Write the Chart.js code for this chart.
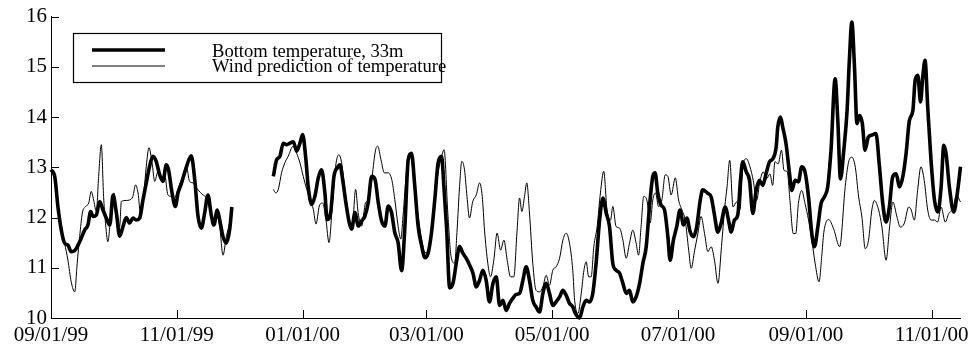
<!DOCTYPE html>
<html>
<head>
<meta charset="utf-8">
<script src="https://cdn.jsdelivr.net/npm/chart.js@4"></script>
<style>
html,body{margin:0;padding:0;background:#fff;}
#c{display:block;}
</style>
</head>
<body>
<canvas id="c" width="974" height="348"></canvas>
<script>
// Days since 09/01/99
const tickDays = [0, 61, 122, 182, 243, 304, 366, 427];
const tickLabels = ['09/01/99', '11/01/99', '01/01/00', '03/01/00', '05/01/00', '07/01/00', '09/01/00', '11/01/00'];
const seriesLabels = ['Bottom temperature, 33m', 'Wind prediction of temperature'];

const tempDay = [
  0,1.8,3.4,5.0,6.6,8.2,9.8,11.5,13.1,14.7,16.3,17.9,19.2,20.4,22.0,23.6,25.2,26.8,28.5,30.1,
  31.7,33.3,34.9,36.5,38.1,39.7,41.3,43.0,44.6,46.2,47.8,49.4,51.0,52.7,54.3,55.9,57.0,58.7,60.3,61.6,
  63.0,65.6,68.0,69.7,71.3,72.9,74.5,76.1,77.7,79.0,80.6,81.8,83.4,85.0,86.6,87.7,
  98,
  107.8,109.4,111.0,112.6,114.3,115.9,117.5,119.1,120.7,122.0,123.6,124.7,126.4,128.0,129.6,131.2,132.8,133.9,135.6,137.2,
  138.8,140.1,141.4,143.0,144.6,145.8,147.4,149.0,150.6,152.2,153.8,155.5,157.1,158.7,160.3,161.9,163.5,165.1,166.7,168.3,
  170.0,171.6,173.2,174.8,176.4,178.0,179.7,181.3,182.9,184.5,186.1,187.7,189.4,190.5,191.8,193.3,194.9,196.5,198.1,199.7,
  201.3,203.0,204.6,206.2,207.8,209.4,211.0,212.6,214.3,215.9,217.5,219.1,220.7,222.3,223.9,225.6,227.2,228.8,230.4,232.0,
  233.6,235.2,236.9,238.5,240.1,241.7,243.3,244.9,246.6,248.2,249.8,251.4,253.0,253.9,255.5,256.3,257.9,259.5,261.1,262.7,
  264.3,266.0,267.6,269.2,270.8,272.4,274.0,275.7,277.3,278.9,280.5,282.1,283.7,285.4,287.0,288.6,290.2,291.8,292.9,294.2,
  295.8,297.5,299.1,300.2,301.8,303.4,305.0,306.7,308.3,309.9,311.5,313.1,314.7,316.0,318.5,320.1,321.7,323.3,324.9,326.9,
  328.5,329.8,331.4,333.0,334.3,335.4,337.1,338.7,340.3,341.9,343.5,345.1,346.7,348.4,350.0,351.6,352.4,353.7,354.8,356.4,
  358.1,359.2,360.8,362.4,364.0,365.6,367.3,368.9,370.2,371.8,373.4,375.0,376.6,378.2,380.2,381.5,382.8,384.4,386.0,387.1,
  388.3,389.6,390.8,392.1,393.4,394.7,396.3,397.9,400.0,401.7,403.3,404.9,406.5,408.1,409.8,411.4,413.0,414.6,416.2,417.9,
  419.0,420.3,421.6,422.7,423.8,425.1,426.7,428.4,430.0,431.6,432.9,434.0,435.6,437.7,439.3,441.0
];
const tempValue = [
  12.95,12.82,12.2,11.75,11.49,11.45,11.32,11.34,11.45,11.59,11.75,11.85,12.12,12.02,12.05,12.32,12.15,11.99,11.85,12.45,
  12.09,11.63,11.82,12.0,11.89,11.99,11.95,11.99,12.35,12.69,13.02,13.22,13.12,12.85,12.72,13.05,12.95,12.49,12.22,12.49,
  12.65,13.0,13.23,12.75,12.02,11.79,12.09,12.45,12.05,11.85,12.15,11.95,11.62,11.49,11.75,12.21,
  null,
  12.82,13.15,13.22,13.48,13.45,13.48,13.51,13.32,13.48,13.65,13.15,12.62,12.26,12.43,12.79,12.95,12.49,11.96,12.1,12.82,
  12.99,13.05,12.76,12.29,11.9,11.77,12.1,11.83,11.93,12.03,12.29,12.82,12.76,12.29,11.93,11.83,12.23,12.1,11.7,11.5,
  10.94,11.83,13.15,13.28,12.62,11.83,11.44,11.2,11.3,11.7,12.36,13.09,13.22,12.62,11.8,10.6,10.69,11.09,11.42,11.29,
  11.19,11.05,10.89,10.62,10.75,10.95,10.75,10.32,10.69,10.82,10.25,10.35,10.15,10.29,10.39,10.47,10.49,10.75,11.02,10.75,
  10.35,10.22,10.12,10.49,10.69,10.49,10.25,10.32,10.42,10.55,10.45,10.29,10.22,10.12,10.02,10.0,10.22,10.35,10.32,10.49,
  11.09,11.95,12.39,12.09,11.82,11.09,10.95,10.89,10.69,10.49,10.55,10.32,10.42,10.69,11.09,11.42,12.22,12.82,12.89,12.49,
  12.25,12.15,11.62,11.15,11.55,11.82,12.15,11.85,11.99,11.72,11.62,11.82,12.32,12.55,12.48,12.41,12.05,11.71,11.88,12.21,
  11.95,11.71,11.95,12.05,12.74,13.11,12.91,12.74,12.08,12.54,12.74,12.64,12.87,13.11,13.17,13.4,13.8,14.0,13.8,13.47,
  12.87,12.54,12.74,12.71,13.01,12.91,12.41,11.68,11.42,11.81,12.28,12.41,12.61,13.34,14.76,13.93,12.77,13.34,14.13,15.13,
  15.89,14.99,13.87,14.03,13.87,13.34,13.6,13.64,13.67,13.01,12.28,11.91,12.21,12.81,12.87,12.61,12.81,13.27,13.93,14.13,
  14.73,14.83,14.3,14.8,15.13,14.2,13.14,12.34,12.11,12.61,13.44,13.27,12.61,12.11,12.44,13.01
];

const windDay = [
  0,1.8,3.4,5.0,6.6,8.2,9.8,11.5,12.7,13.9,15.2,16.8,18.3,19.5,20.8,22.0,23.1,24.4,25.5,26.3,
  27.6,28.9,30.5,31.7,33.3,34.1,36.5,38.1,39.7,41.0,42.2,43.5,45.1,46.2,47.5,49.0,50.3,51.9,53.5,55.1,
  56.7,58.3,59.9,61.6,63.9,65.6,67.2,68.8,71.3,73.7,75.3,76.9,78.5,80.1,81.8,83.4,85.0,86.6,87.4,
  98,
  107.8,109.0,110.2,111.8,113.4,115.0,117.4,119.1,120.7,122.3,124.0,125.6,127.2,128.5,130.1,131.7,133.3,134.8,136.4,138.0,
  139.6,140.9,142.5,144.1,146.0,147.7,148.9,150.6,152.5,154.1,155.7,157.4,158.4,160.0,161.6,163.5,165.2,166.7,168.3,169.6,
  170.7,172.4,173.5,174.8,176.4,178.0,179.7,181.3,182.9,184.5,186.1,187.7,189.4,190.6,192.4,194.0,195.7,196.9,198.1,199.2,
  200.5,201.7,202.9,204.5,206.2,207.8,209.1,210.2,211.8,213.1,214.7,216.3,218.0,219.6,221.2,222.8,224.4,226.0,227.2,228.3,
  229.6,230.7,232.0,233.6,235.2,236.9,238.5,240.1,241.7,243.3,244.9,246.6,248.2,249.8,251.4,253.0,253.9,255.5,257.1,258.4,
  259.5,260.7,261.9,263.2,264.8,266.4,268.0,269.6,271.3,272.4,274.0,275.7,277.3,278.9,280.5,282.1,283.7,284.9,286.1,287.4,
  288.9,290.5,291.8,293.1,294.6,296.2,297.8,299.1,300.7,302.7,304.3,305.9,307.5,309.2,310.4,312.1,313.7,315.2,316.9,318.5,
  320.1,321.7,323.4,325.1,326.7,327.8,329.1,330.7,332.4,334.0,335.6,337.2,338.9,340.5,342.1,343.7,345.3,346.9,348.6,349.9,
  351.0,352.6,354.2,355.4,357.0,358.3,359.9,361.1,362.4,364.0,365.6,367.3,368.9,370.5,372.4,373.7,374.7,377.1,379.5,382.4,
  385.1,386.7,388.3,390.0,391.6,393.2,394.8,396.4,398.0,399.3,401.3,402.9,404.9,406.6,408.2,410.2,411.8,413.7,415.9,417.1,
  418.6,420.2,421.8,423.4,425.1,426.7,428.3,429.9,431.6,433.6,435.3,437.4,439.0,441.0
];
const windValue = [
  12.95,12.75,12.29,11.82,11.49,11.15,10.72,10.52,11.09,11.62,12.09,12.22,12.29,12.52,12.32,12.12,12.82,13.45,12.42,11.95,
  11.52,12.02,12.49,12.15,11.82,12.32,12.34,12.35,12.42,12.65,12.49,12.05,12.52,13.02,13.39,13.09,12.72,12.92,12.79,12.85,
  12.45,12.42,12.39,12.58,12.82,13.02,12.72,12.69,12.55,12.45,12.39,12.19,11.89,12.09,11.82,11.25,11.62,11.89,12.09,
  null,
  12.56,12.49,12.56,12.89,13.09,13.22,13.42,13.28,13.09,12.82,12.56,12.36,12.16,11.87,12.23,12.29,11.96,11.5,12.23,13.02,
  13.25,13.09,12.56,12.1,11.77,12.56,12.1,11.83,12.29,12.36,12.82,13.35,13.42,13.15,12.89,12.89,12.76,12.36,11.83,11.57,
  12.03,12.95,13.28,13.15,12.56,12.03,11.57,11.3,11.3,11.7,12.36,12.89,13.22,13.35,12.09,11.22,11.09,11.75,12.62,13.12,
  12.95,12.42,11.99,12.32,12.45,12.69,12.42,11.75,11.09,10.82,11.15,11.69,11.35,11.55,11.15,10.82,10.82,11.75,12.39,12.12,
  12.42,12.69,12.09,11.09,10.55,10.52,10.62,10.85,10.65,10.95,11.02,11.19,11.55,11.69,11.49,10.95,10.35,10.09,10.49,10.95,
  11.12,10.82,10.82,11.42,11.82,12.49,12.92,12.15,11.95,12.22,11.82,11.79,11.55,11.19,11.49,11.75,11.49,11.25,11.82,12.42,
  12.35,11.89,12.35,12.49,12.22,12.35,12.85,12.82,12.45,12.79,12.35,12.15,11.95,11.35,10.99,11.35,11.69,12.02,11.68,11.32,
  11.42,11.15,10.69,11.42,12.21,12.61,13.14,12.21,12.31,12.15,13.07,13.17,13.01,12.74,12.34,12.71,12.91,12.77,12.87,12.64,
  13.11,13.07,13.34,12.94,12.91,12.34,11.68,11.68,12.28,12.54,12.28,11.95,11.55,11.09,10.72,11.22,11.7,11.96,11.77,11.42,
  12.62,13.1,13.2,13.0,12.41,12.01,11.38,11.55,12.15,12.34,12.15,11.81,11.15,11.81,12.31,12.01,11.81,11.88,12.21,12.15,
  11.95,12.54,13.01,12.74,12.15,11.95,11.95,11.91,12.21,11.91,12.08,12.18,12.44,12.31
];

const toPoints = (xs, ys) => xs.map((x, i) => ({ x: x, y: ys[i] }));
const FONT = "'Liberation Serif', 'DejaVu Serif', serif";

const innerTicks = {
  id: 'innerTicks',
  afterDraw(chart) {
    const ctx = chart.ctx;
    const xs = chart.scales.x, ys = chart.scales.y;
    const a = chart.chartArea;
    ctx.save();
    ctx.strokeStyle = '#000';
    ctx.lineWidth = 1;
    ctx.beginPath();
    xs.ticks.forEach(t => {
      const px = Math.round(xs.getPixelForValue(t.value)) + 0.5;
      ctx.moveTo(px, a.bottom);
      ctx.lineTo(px, a.bottom - 8);
    });
    ys.ticks.forEach(t => {
      const py = Math.round(ys.getPixelForValue(t.value)) + 0.5;
      ctx.moveTo(a.left, py);
      ctx.lineTo(a.left + 8, py);
    });
    ctx.stroke();
    ctx.restore();
  }
};

const boxLegend = {
  id: 'boxLegend',
  afterDraw(chart) {
    const ctx = chart.ctx;
    ctx.save();
    ctx.strokeStyle = '#000';
    ctx.lineWidth = 1.2;
    ctx.strokeRect(73.5, 33.5, 368, 49);
    const ds = chart.data.datasets;
    ctx.lineWidth = ds[0].borderWidth;
    ctx.beginPath(); ctx.moveTo(92, 50); ctx.lineTo(165, 50); ctx.stroke();
    ctx.lineWidth = ds[1].borderWidth;
    ctx.beginPath(); ctx.moveTo(92, 66); ctx.lineTo(165, 66); ctx.stroke();
    ctx.fillStyle = '#000';
    ctx.font = "18.6px " + FONT;
    ctx.textBaseline = 'alphabetic';
    ctx.textAlign = 'left';
    ctx.fillText(ds[0].label, 212, 57);
    ctx.fillText(ds[1].label, 212, 72);
    ctx.restore();
  }
};

new Chart(document.getElementById('c'), {
  type: 'line',
  data: {
    datasets: [
      {
        label: seriesLabels[0],
        data: toPoints(tempDay, tempValue),
        borderColor: '#000',
        borderWidth: 3.6,
        pointRadius: 0,
        cubicInterpolationMode: 'monotone',
        spanGaps: false,
        clip: 4,
        order: 0
      },
      {
        label: seriesLabels[1],
        data: toPoints(windDay, windValue),
        borderColor: '#000',
        borderWidth: 1,
        pointRadius: 0,
        cubicInterpolationMode: 'monotone',
        spanGaps: false,
        clip: 4,
        order: 1
      }
    ]
  },
  options: {
    responsive: false,
    animation: false,
    devicePixelRatio: 1,
    layout: { padding: { top: 16, right: 13, left: 0, bottom: 0 } },
    scales: {
      x: {
        type: 'linear',
        min: 0,
        max: 441,
        afterBuildTicks: s => { s.ticks = tickDays.map(v => ({ value: v })); },
        afterFit: s => { s.height = 30; },
        ticks: {
          autoSkip: false,
          maxRotation: 0,
          padding: 5,
          color: '#000',
          font: { family: FONT, size: 21 },
          callback: (v, i) => tickLabels[i]
        },
        grid: { drawOnChartArea: false, drawTicks: false },
        border: { display: true, color: '#000', width: 1 }
      },
      y: {
        min: 10,
        max: 16,
        afterFit: s => { s.width = 51; },
        ticks: {
          stepSize: 1,
          padding: 4,
          color: '#000',
          font: { family: FONT, size: 21 }
        },
        grid: { drawOnChartArea: false, drawTicks: false },
        border: { display: true, color: '#000', width: 1 }
      }
    },
    plugins: {
      legend: { display: false },
      tooltip: { enabled: false }
    }
  },
  plugins: [innerTicks, boxLegend]
});
</script>
</body>
</html>
